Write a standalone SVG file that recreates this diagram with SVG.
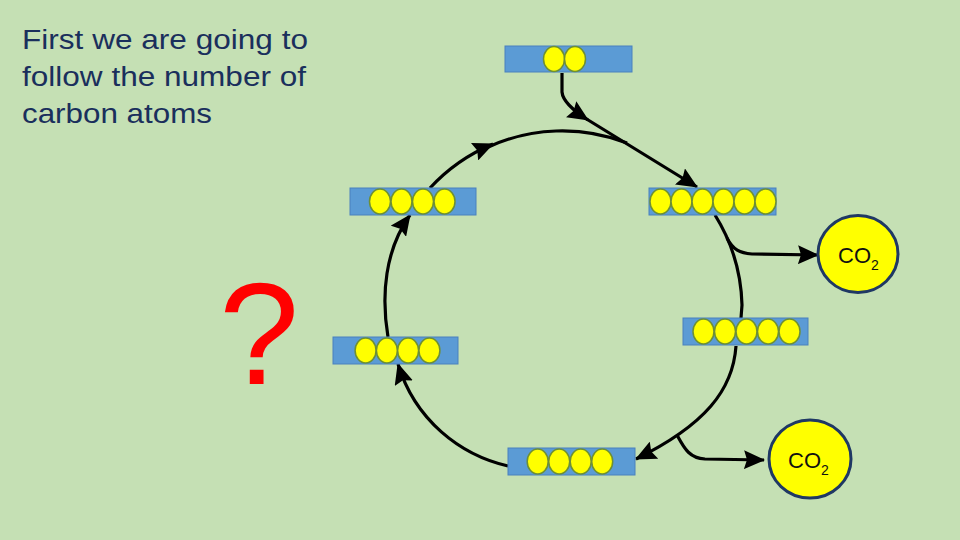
<svg xmlns="http://www.w3.org/2000/svg" width="960" height="540" viewBox="0 0 960 540">
<defs>
<style>
.box{fill:#5B9BD5;stroke:#4A80BD;stroke-width:1}
.c{fill:#FFFF00;stroke:#6E8F34;stroke-width:1.5}
.co2{fill:#FFFF00;stroke:#1F3864;stroke-width:3}
.ln{fill:none;stroke:#000;stroke-width:3.2}
.t{font-family:"Liberation Sans",Arial,sans-serif;fill:#1A2F5C;font-size:27.5px}
.ct{font-family:"Liberation Sans",Arial,sans-serif;fill:#111;font-size:22px}
.sub{font-size:14px}
</style>
<marker id="ah" viewBox="0 0 21 19" refX="20" refY="9.5" markerWidth="21" markerHeight="19" markerUnits="userSpaceOnUse" orient="auto">
<path d="M0,0 L21,9.5 L0,19 L3,9.5 Z" fill="#000"/>
</marker>
</defs>
<rect width="960" height="540" fill="#C5E0B4"/>

<g id="intro-text">
<text class="t" x="22" y="49" textLength="286" lengthAdjust="spacingAndGlyphs">First we are going to</text>
<text class="t" x="22" y="86" textLength="284" lengthAdjust="spacingAndGlyphs">follow the number of</text>
<text class="t" x="22" y="123" textLength="190" lengthAdjust="spacingAndGlyphs">carbon atoms</text>
</g>

<g id="question">
<text x="219" y="384" font-family="Liberation Sans,Arial,sans-serif" font-size="144" fill="#FF0000">?</text>
</g>

<g id="connectors">
<path class="ln" d="M562,73 L562,92 Q563,104 588,120" marker-end="url(#ah)"/>
<path class="ln" d="M580,115 L697,187" marker-end="url(#ah)"/>
<path class="ln" d="M430,188 A179,179 0 0,1 493,144" marker-end="url(#ah)"/>
<path class="ln" d="M486,148 A179,179 0 0,1 627,143"/>
<path class="ln" d="M715,215 A179,179 0 0,1 742,305 L741,318"/>
<path class="ln" d="M727,238 C733,250 740,253 752,254 L818,255" marker-end="url(#ah)"/>
<path class="ln" d="M736,346 C733,390 705,425 636,459" marker-end="url(#ah)"/>
<path class="ln" d="M677,435 C685,450 690,458 705,459 L764,460" marker-end="url(#ah)"/>
<path class="ln" d="M508,466 C460,455 415,420 398,364" marker-end="url(#ah)"/>
<path class="ln" d="M388,337 C381,295 385,250 410,215" marker-end="url(#ah)"/>
</g>

<g id="box-top">
<rect class="box" x="505" y="46" width="127" height="26"/>
<ellipse class="c" cx="554" cy="59" rx="10.5" ry="12.5"/>
<ellipse class="c" cx="575" cy="59" rx="10.5" ry="12.5"/>
</g>

<g id="box-upper-left">
<rect class="box" x="350" y="188" width="126" height="27"/>
<ellipse class="c" cx="380" cy="201.5" rx="10.5" ry="12.5"/>
<ellipse class="c" cx="401.5" cy="201.5" rx="10.5" ry="12.5"/>
<ellipse class="c" cx="423" cy="201.5" rx="10.5" ry="12.5"/>
<ellipse class="c" cx="444.5" cy="201.5" rx="10.5" ry="12.5"/>
</g>

<g id="box-upper-right">
<rect class="box" x="649" y="188" width="127" height="27"/>
<ellipse class="c" cx="660.5" cy="201.5" rx="10.5" ry="12.5"/>
<ellipse class="c" cx="681.5" cy="201.5" rx="10.5" ry="12.5"/>
<ellipse class="c" cx="702.5" cy="201.5" rx="10.5" ry="12.5"/>
<ellipse class="c" cx="723.5" cy="201.5" rx="10.5" ry="12.5"/>
<ellipse class="c" cx="744.5" cy="201.5" rx="10.5" ry="12.5"/>
<ellipse class="c" cx="765.5" cy="201.5" rx="10.5" ry="12.5"/>
</g>

<g id="box-right-middle">
<rect class="box" x="683" y="318" width="125" height="27"/>
<ellipse class="c" cx="703.5" cy="331.5" rx="10.5" ry="12.5"/>
<ellipse class="c" cx="725" cy="331.5" rx="10.5" ry="12.5"/>
<ellipse class="c" cx="746.5" cy="331.5" rx="10.5" ry="12.5"/>
<ellipse class="c" cx="768" cy="331.5" rx="10.5" ry="12.5"/>
<ellipse class="c" cx="789.5" cy="331.5" rx="10.5" ry="12.5"/>
</g>

<g id="box-lower-left">
<rect class="box" x="333" y="337" width="125" height="27"/>
<ellipse class="c" cx="365.6" cy="350.5" rx="10.5" ry="12.5"/>
<ellipse class="c" cx="386.9" cy="350.5" rx="10.5" ry="12.5"/>
<ellipse class="c" cx="408.1" cy="350.5" rx="10.5" ry="12.5"/>
<ellipse class="c" cx="429.4" cy="350.5" rx="10.5" ry="12.5"/>
</g>

<g id="box-bottom">
<rect class="box" x="508" y="448" width="127" height="27"/>
<ellipse class="c" cx="537.7" cy="461.5" rx="10.5" ry="12.5"/>
<ellipse class="c" cx="559.2" cy="461.5" rx="10.5" ry="12.5"/>
<ellipse class="c" cx="580.7" cy="461.5" rx="10.5" ry="12.5"/>
<ellipse class="c" cx="602.2" cy="461.5" rx="10.5" ry="12.5"/>
</g>

<g id="co2-top">
<ellipse class="co2" cx="858" cy="254" rx="40" ry="38.5"/>
<text class="ct" x="838" y="263">CO<tspan class="sub" dy="7">2</tspan></text>
</g>

<g id="co2-bottom">
<ellipse class="co2" cx="810" cy="459" rx="41" ry="39"/>
<text class="ct" x="788" y="468">CO<tspan class="sub" dy="7">2</tspan></text>
</g>
</svg>
